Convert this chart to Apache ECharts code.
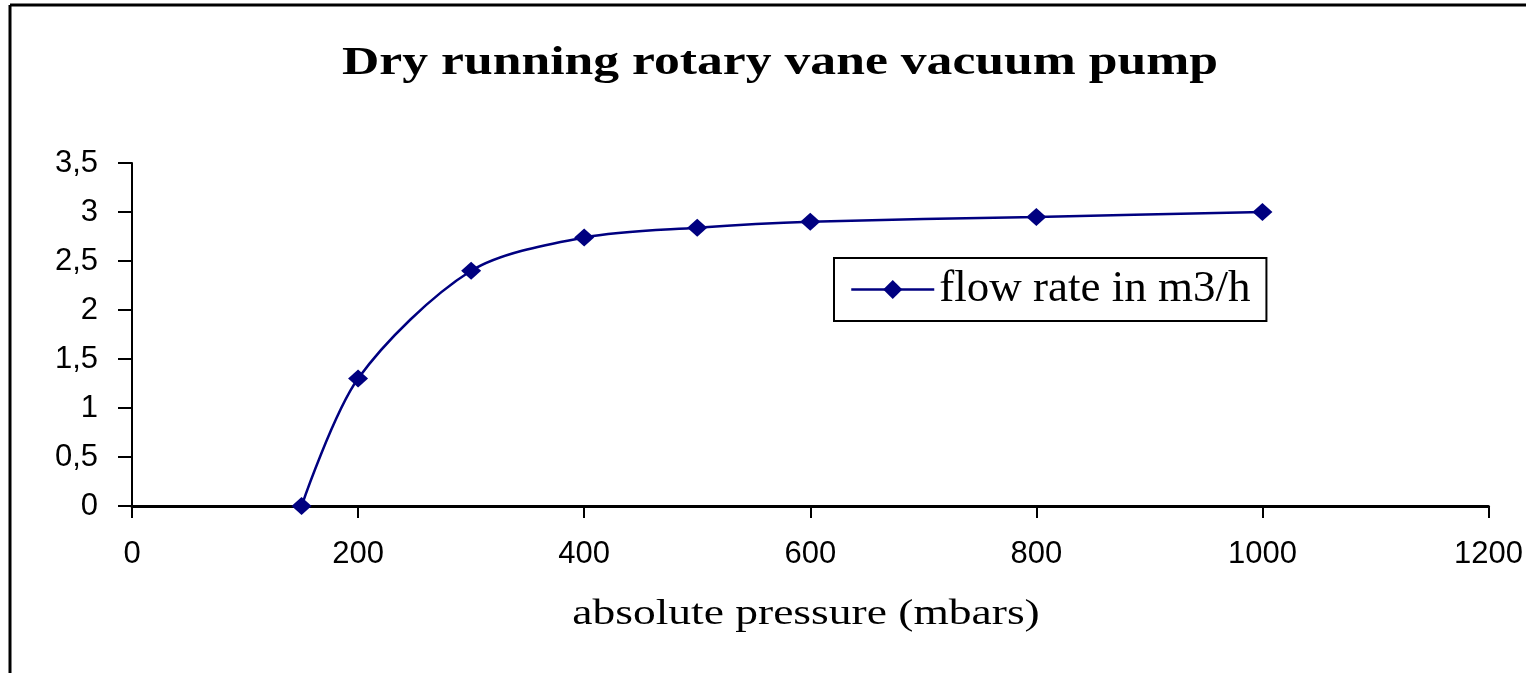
<!DOCTYPE html>
<html lang="en">

<head>
    <meta charset="UTF-8">
    <meta name="viewport" content="width=device-width, initial-scale=1.0">
    <title>Dry running rotary vane vacuum pump</title>
</head>
<style>
    html, body {
        margin: 0;
        padding: 0;
        background: #fff;
    }
</style>

<body>
    <div id="main" style="width: 1526px;height: 673px;"></div>
    <script src="https://cdn.jsdelivr.net/npm/echarts/dist/echarts.min.js"></script>
    <script>
        // absolute pressure (mbars) / flow rate (m3/h)
        var pressure = [150, 200, 300, 400, 500, 600, 800, 1000];
        var flowRate = [0, 1.3, 2.4, 2.74, 2.84, 2.9, 2.95, 3.0];
        var seriesName = 'flow rate in m3/h';
        var xRange = [0, 1200, 200];
        var yRange = [0, 3.5, 0.5];

        var chartDom = document.getElementById('main');
        var myChart = echarts.init(chartDom);
        var points = pressure.map(function (p, i) { return [p, flowRate[i]]; });

        option = {
            backgroundColor: '#fff',
            animation: false,
            graphic: [
                { type: 'line', shape: { x1: 10, y1: 5, x2: 1526, y2: 5 }, style: { stroke: '#000', lineWidth: 3 } },
                { type: 'line', shape: { x1: 10, y1: 5, x2: 10, y2: 673 }, style: { stroke: '#000', lineWidth: 3 } },
                {
                    type: 'text', x: 780, y: 63, scaleX: 1.26,
                    style: {
                        text: 'Dry running rotary vane vacuum pump',
                        fontFamily: 'Liberation Serif', fontWeight: 'bold', fontSize: 41,
                        fill: '#000', align: 'center', verticalAlign: 'middle'
                    }
                },
                {
                    type: 'text', x: 806, y: 615, scaleX: 1.3,
                    style: {
                        text: 'absolute pressure (mbars)',
                        fontFamily: 'Liberation Serif', fontSize: 35,
                        fill: '#000', align: 'center', verticalAlign: 'middle'
                    }
                }
            ],
            legend: {
                left: 834,
                top: 258,
                orient: 'vertical',
                padding: [9, 16, 9, 16],
                borderColor: '#000',
                borderWidth: 2,
                itemWidth: 83,
                itemHeight: 24,
                lineStyle: { width: 2.5 },
                textStyle: {
                    fontFamily: 'Liberation Serif',
                    fontSize: 45,
                    color: '#000'
                },
                data: [seriesName]
            },
            grid: {
                left: 132,
                right: 37,
                top: 163,
                bottom: 167
            },
            xAxis: {
                type: 'value',
                min: xRange[0],
                max: xRange[1],
                interval: xRange[2],
                splitLine: { show: false },
                axisLine: { lineStyle: { color: '#000', width: 3 } },
                axisTick: { length: 12, lineStyle: { color: '#000', width: 2 } },
                axisLabel: {
                    margin: 33,
                    color: '#000',
                    fontFamily: 'Liberation Sans',
                    fontSize: 31,
                    formatter: function (v) { return String(v); }
                }
            },
            yAxis: {
                type: 'value',
                min: yRange[0],
                max: yRange[1],
                interval: yRange[2],
                splitLine: { show: false },
                axisLine: { show: true, lineStyle: { color: '#000', width: 2 } },
                axisTick: { show: true, length: 14, lineStyle: { color: '#000', width: 2 } },
                axisLabel: {
                    margin: 34,
                    color: '#000',
                    fontFamily: 'Liberation Sans',
                    fontSize: 31,
                    formatter: function (v) { return String(v).replace('.', ','); }
                }
            },
            series: [{
                name: seriesName,
                type: 'line',
                data: points,
                smooth: 0.3,
                symbol: 'diamond',
                symbolSize: [20, 18],
                lineStyle: { color: '#000080', width: 2.5 },
                itemStyle: { color: '#000080' }
            }]
        };
        myChart.setOption(option);
    </script>
</body>

</html>
